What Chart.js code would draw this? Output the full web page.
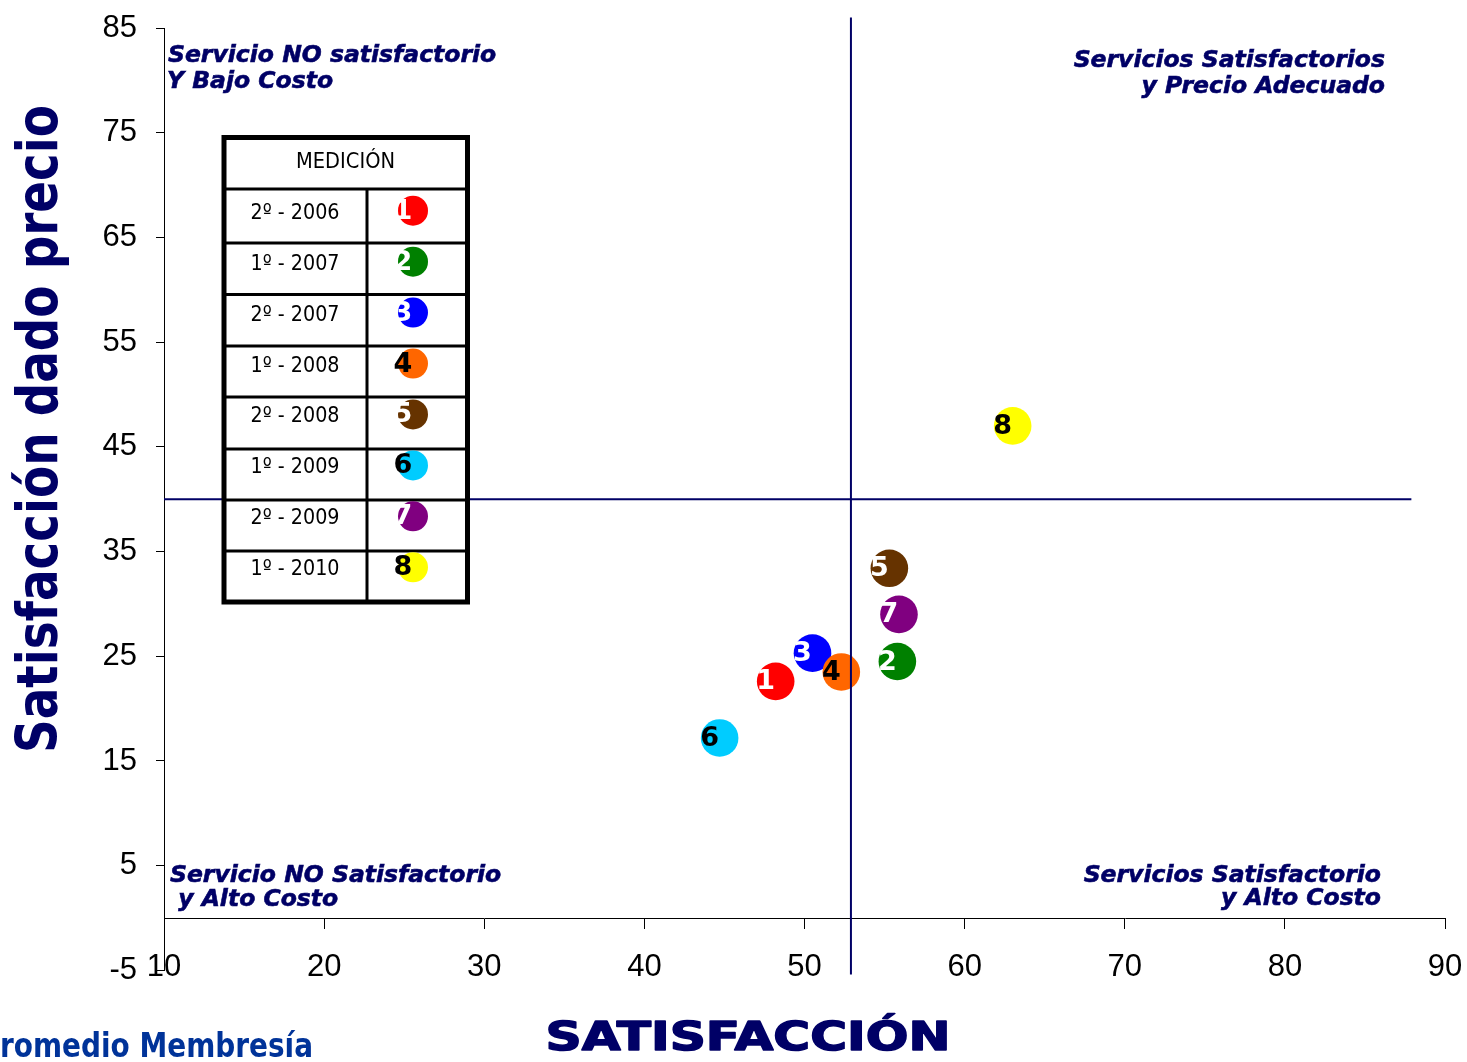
<!DOCTYPE html>
<html>
<head>
<meta charset="utf-8">
<script src="https://cdn.jsdelivr.net/npm/chart.js@4.4.1/dist/chart.umd.min.js"></script>
<style>
  html, body { margin: 0; padding: 0; background: #fff; }
  #chart { display: block; }
</style>
</head>
<body>
<canvas id="chart" width="1467" height="1062"></canvas>
<script>
// mediciones
const mediciones = ['2º - 2006', '1º - 2007', '2º - 2007', '1º - 2008', '2º - 2008', '1º - 2009', '2º - 2009', '1º - 2010'];
const numeros = ['1', '2', '3', '4', '5', '6', '7', '8'];
const satisfaccion = [48.2, 55.8, 50.5, 52.3, 55.3, 44.7, 55.9, 63.0];
const satisfaccionPrecio = [22.6, 24.5, 25.3, 23.5, 33.4, 17.2, 29.0, 47.0];
const colores = ['#ff0000', '#008000', '#0000ff', '#ff6600', '#663300', '#00ccff', '#800080', '#ffff00'];
const coloresNumero = ['#ffffff', '#ffffff', '#ffffff', '#000000', '#ffffff', '#000000', '#ffffff', '#000000'];

// ejes
const ticksX = [10, 20, 30, 40, 50, 60, 70, 80, 90];
const ticksY = [-5, 5, 15, 25, 35, 45, 55, 65, 75, 85];

// promedio membresía (líneas de cuadrantes)
const promedioSatisfaccion = 52.9;
const promedioPrecio = 40;
const lineaVerticalY = [-5.4, 86];
const lineaHorizontalX = [10, 87.9];

const AZUL = '#000066';

function textoAjustado(ctx, texto, x, y, ancho, font, color, rot, align, grosor) {
    ctx.save();
    ctx.translate(x, y);
    ctx.rotate(rot || 0);
    ctx.font = font;
    const w = ctx.measureText(texto).width;
    ctx.scale(ancho / w, 1);
    ctx.fillStyle = color;
    ctx.textAlign = align || 'center';
    ctx.textBaseline = 'alphabetic';
    ctx.fillText(texto, 0, 0);
    if (grosor) {
        ctx.strokeStyle = color;
        ctx.lineWidth = grosor;
        ctx.lineJoin = 'round';
        ctx.strokeText(texto, 0, 0);
    }
    ctx.restore();
}

// números sobre los puntos
const numerosPlugin = {
    id: 'numeros',
    afterDatasetsDraw(chart) {
        const ctx = chart.ctx;
        const meta = chart.getDatasetMeta(2);
        ctx.save();
        ctx.font = 'bold 27px "DejaVu Sans"';
        ctx.textAlign = 'center';
        ctx.textBaseline = 'middle';
        meta.data.forEach((pt, i) => {
            ctx.fillStyle = coloresNumero[i];
            ctx.fillText(numeros[i], pt.x - 10, pt.y + 1);
        });
        ctx.restore();
    }
};

// tabla, textos de cuadrantes y títulos
const textosPlugin = {
    id: 'textos',
    afterDraw(chart) {
        const ctx = chart.ctx;
        ctx.save();

        // tabla MEDICIÓN
        const tx = 224, ty = 137.5, tw = 243.5, th = 464.5;
        const lineas = [189, 243, 294.5, 346, 397, 449, 500, 551];
        ctx.fillStyle = '#fff';
        ctx.fillRect(tx, ty, tw, th);
        ctx.strokeStyle = '#000';
        ctx.lineWidth = 3;
        ctx.beginPath();
        lineas.forEach(y => { ctx.moveTo(tx, y); ctx.lineTo(tx + tw, y); });
        ctx.moveTo(367, lineas[0]);
        ctx.lineTo(367, ty + th);
        ctx.stroke();
        ctx.lineWidth = 5;
        ctx.strokeRect(tx, ty, tw, th);

        textoAjustado(ctx, 'MEDICIÓN', 345.5, 168, 99, '22px "DejaVu Sans"', '#000', 0);

        mediciones.forEach((m, i) => {
            const cy = 210.7 + i * 50.94;
            textoAjustado(ctx, m, 295, cy + 8, 89, '22px "DejaVu Sans"', '#000', 0);
            ctx.beginPath();
            ctx.arc(413, cy, 15, 0, Math.PI * 2);
            ctx.fillStyle = colores[i];
            ctx.fill();
            ctx.font = 'bold 27px "DejaVu Sans"';
            ctx.fillStyle = coloresNumero[i];
            ctx.textAlign = 'center';
            ctx.textBaseline = 'middle';
            ctx.fillText(numeros[i], 403, cy + 1);
        });

        // cuadrantes
        ctx.fillStyle = AZUL;
        ctx.strokeStyle = AZUL;
        ctx.lineWidth = 0.6;
        ctx.textBaseline = 'alphabetic';
        ctx.font = 'italic bold 23.5px "DejaVu Sans"';
        const cuadro = (t, x, y) => { ctx.fillText(t, x, y); ctx.strokeText(t, x, y); };
        ctx.textAlign = 'left';
        cuadro('Servicio NO satisfactorio', 168, 62);
        cuadro('Y Bajo Costo', 167, 88);
        cuadro('Servicio NO Satisfactorio', 170, 882);
        cuadro(' y Alto Costo', 170, 906);
        ctx.textAlign = 'right';
        cuadro('Servicios Satisfactorios', 1385, 67);
        cuadro('y Precio Adecuado', 1385, 93);
        cuadro('Servicios Satisfactorio', 1381, 882);
        cuadro('y Alto Costo', 1381, 905);

        // títulos de ejes
        textoAjustado(ctx, 'Satisfacción dado precio', 57, 429, 648, 'bold 57px "DejaVu Sans"', AZUL, -Math.PI / 2);
        textoAjustado(ctx, 'SATISFACCIÓN', 748, 1050, 405, 'bold 39px "DejaVu Sans"', AZUL, 0, 'center', 1.5);

        // Promedio Membresía (recortado a la izquierda)
        ctx.font = 'bold 34px "DejaVu Sans"';
        const s = 313 / ctx.measureText('romedio Membresía').width;
        ctx.translate(313, 1057);
        ctx.scale(s, 1);
        ctx.fillStyle = '#003399';
        ctx.textAlign = 'right';
        ctx.fillText('Promedio Membresía', 0, 0);

        ctx.restore();
    }
};

const puntos = satisfaccion.map((x, i) => ({ x: x, y: satisfaccionPrecio[i] }));

new Chart(document.getElementById('chart'), {
    type: 'scatter',
    data: {
        datasets: [
            {
                data: lineaVerticalY.map(y => ({ x: promedioSatisfaccion, y: y })),
                showLine: true,
                borderColor: AZUL,
                borderWidth: 2,
                pointRadius: 0,
                clip: false
            },
            {
                data: lineaHorizontalX.map(x => ({ x: x, y: promedioPrecio })),
                showLine: true,
                borderColor: AZUL,
                borderWidth: 2,
                pointRadius: 0,
                clip: false
            },
            {
                data: puntos,
                backgroundColor: colores,
                borderWidth: 0,
                pointRadius: 18.8,
                pointHoverRadius: 18.8
            }
        ]
    },
    options: {
        responsive: false,
        animation: false,
        layout: { padding: { top: 28, right: 22, bottom: 91.6, left: 0 } },
        plugins: {
            legend: { display: false },
            tooltip: { enabled: false }
        },
        scales: {
            x: {
                type: 'linear',
                position: { y: 0 },
                min: ticksX[0],
                max: ticksX[ticksX.length - 1],
                afterBuildTicks: s => { s.ticks = ticksX.map(v => ({ value: v })); },
                afterFit: s => { s.height = 0; s.paddingLeft = 0; s.paddingRight = 0; s.paddingTop = 0; s.paddingBottom = 0; },
                ticks: {
                    color: '#000',
                    font: { family: 'Liberation Sans', size: 31 },
                    padding: 21,
                    maxRotation: 0,
                    autoSkip: false
                },
                grid: { drawOnChartArea: false, drawTicks: true, tickLength: 10, color: '#000' },
                border: { color: '#000', width: 1 }
            },
            y: {
                type: 'linear',
                min: ticksY[0],
                max: ticksY[ticksY.length - 1],
                afterBuildTicks: s => { s.ticks = ticksY.map(v => ({ value: v })); },
                afterFit: s => { s.width = 164; s.paddingLeft = 0; s.paddingRight = 0; s.paddingTop = 0; s.paddingBottom = 0; },
                ticks: {
                    color: '#000',
                    font: { family: 'Liberation Sans', size: 31 },
                    padding: 19,
                    autoSkip: false
                },
                grid: { drawOnChartArea: false, drawTicks: true, tickLength: 8, color: '#000' },
                border: { color: '#000', width: 1 }
            }
        }
    },
    plugins: [numerosPlugin, textosPlugin]
});
</script>
</body>
</html>
